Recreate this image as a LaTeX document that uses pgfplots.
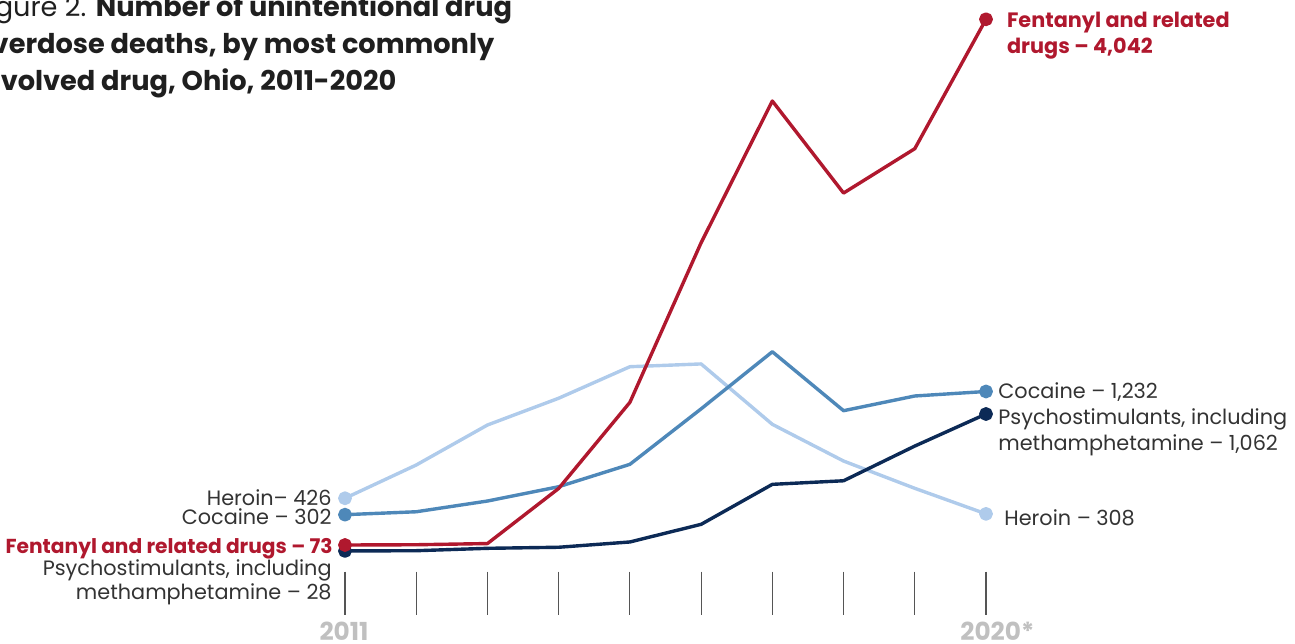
\documentclass[border=0pt]{standalone}
\usepackage{pgfplots}
\pgfplotsset{compat=1.18}
\usepackage{fontspec}
\setmainfont{Poppins}
\definecolor{fent}{HTML}{B0182E}
\definecolor{heroin}{HTML}{AFCBEB}
\definecolor{cocaine}{HTML}{4E88B9}
\definecolor{psycho}{HTML}{0C2A56}
\definecolor{labelgray}{HTML}{333333}
\definecolor{yeargray}{HTML}{C0C0C0}
\definecolor{tickgray}{HTML}{555555}
\begin{document}
\begin{tikzpicture}
\path[use as bounding box] (0,0) rectangle (647.5pt,-321.5pt);
\clip (0,0) rectangle (647.5pt,-321.5pt);
\begin{axis}[at={(172.5pt,-277.335pt)}, anchor=south west, scale only axis,
  width=320.5pt, height=267.7pt, xmin=2011, xmax=2020, ymin=0, ymax=4042,
  axis lines=none, clip=false, line join=round,
  every axis plot/.append style={line width=1.7pt, mark size=2.6pt, mark indices={1,10}}]
\pgfplotsinvokeforeach{2011,...,2020}{\draw[tickgray, line width=0.6pt] (axis cs:#1,-128) -- (axis cs:#1,-455);}
\addplot[heroin, mark=*] coordinates {(2011,426)(2012,677)(2013,979)(2014,1181)(2015,1419)(2016,1440)(2017,984)(2018,707)(2019,501)(2020,308)};
\addplot[cocaine, mark=*] coordinates {(2011,302)(2012,324)(2013,405)(2014,513)(2015,682)(2016,1101)(2017,1532)(2018,1087)(2019,1198)(2020,1232)};
\addplot[psycho, mark=*] coordinates {(2011,28)(2012,30)(2013,48)(2014,56)(2015,96)(2016,229)(2017,531)(2018,558)(2019,820)(2020,1062)};
\addplot[fent, mark=*] coordinates {(2011,73)(2012,75)(2013,84)(2014,500)(2015,1150)(2016,2355)(2017,3425)(2018,2730)(2019,3065)(2020,4042)};
\end{axis}
\begin{scope}[x=0.5pt,y=-0.5pt, every node/.style={inner sep=0pt, font=\fontsize{10.4pt}{13pt}\selectfont, text=labelgray}]
% title
\begin{scope}[every node/.style={inner sep=0pt, anchor=base west, font=\fontsize{13.6pt}{16pt}\selectfont, text=black!88}]
\node at (-26,16.7) {Figure 2. \textbf{Number of unintentional drug}};
\node at (-26,53.3) {\textbf{overdose deaths, by most commonly}};
\node at (-26,90) {\textbf{involved drug, Ohio, 2011-2020}};
\end{scope}
% left labels
\node[anchor=base east] at (332,505) {Heroin– 426};
\node[anchor=base east] at (332,524.3) {Cocaine – 302};
\node[anchor=base east, text=fent, font=\fontsize{10.1pt}{13pt}\selectfont] at (333,553.3) {\textbf{Fentanyl and related drugs – 73}};
\node[anchor=base east] at (332,575) {Psychostimulants, including};
\node[anchor=base east] at (332,599.3) {methamphetamine – 28};
% right labels
\node[anchor=base west] at (998,398.3) {Cocaine – 1,232};
\node[anchor=base west] at (998,424) {Psychostimulants, including};
\node[anchor=base west] at (998,450) {methamphetamine – 1,062};
\node[anchor=base west] at (1004,525) {Heroin – 308};
\node[anchor=base west, text=fent] at (1006.7,27.3) {\textbf{Fentanyl and related}};
\node[anchor=base west, text=fent] at (1006.7,53.3) {\textbf{drugs – 4,042}};
% years
\begin{scope}[every node/.style={inner sep=0pt, font=\fontsize{12.4pt}{14pt}\selectfont\bfseries, text=yeargray}]
\node[anchor=base] at (344,640) {2011};
\node[anchor=base west] at (960,640) {2020*};
\end{scope}
\end{scope}
\end{tikzpicture}
\end{document}
